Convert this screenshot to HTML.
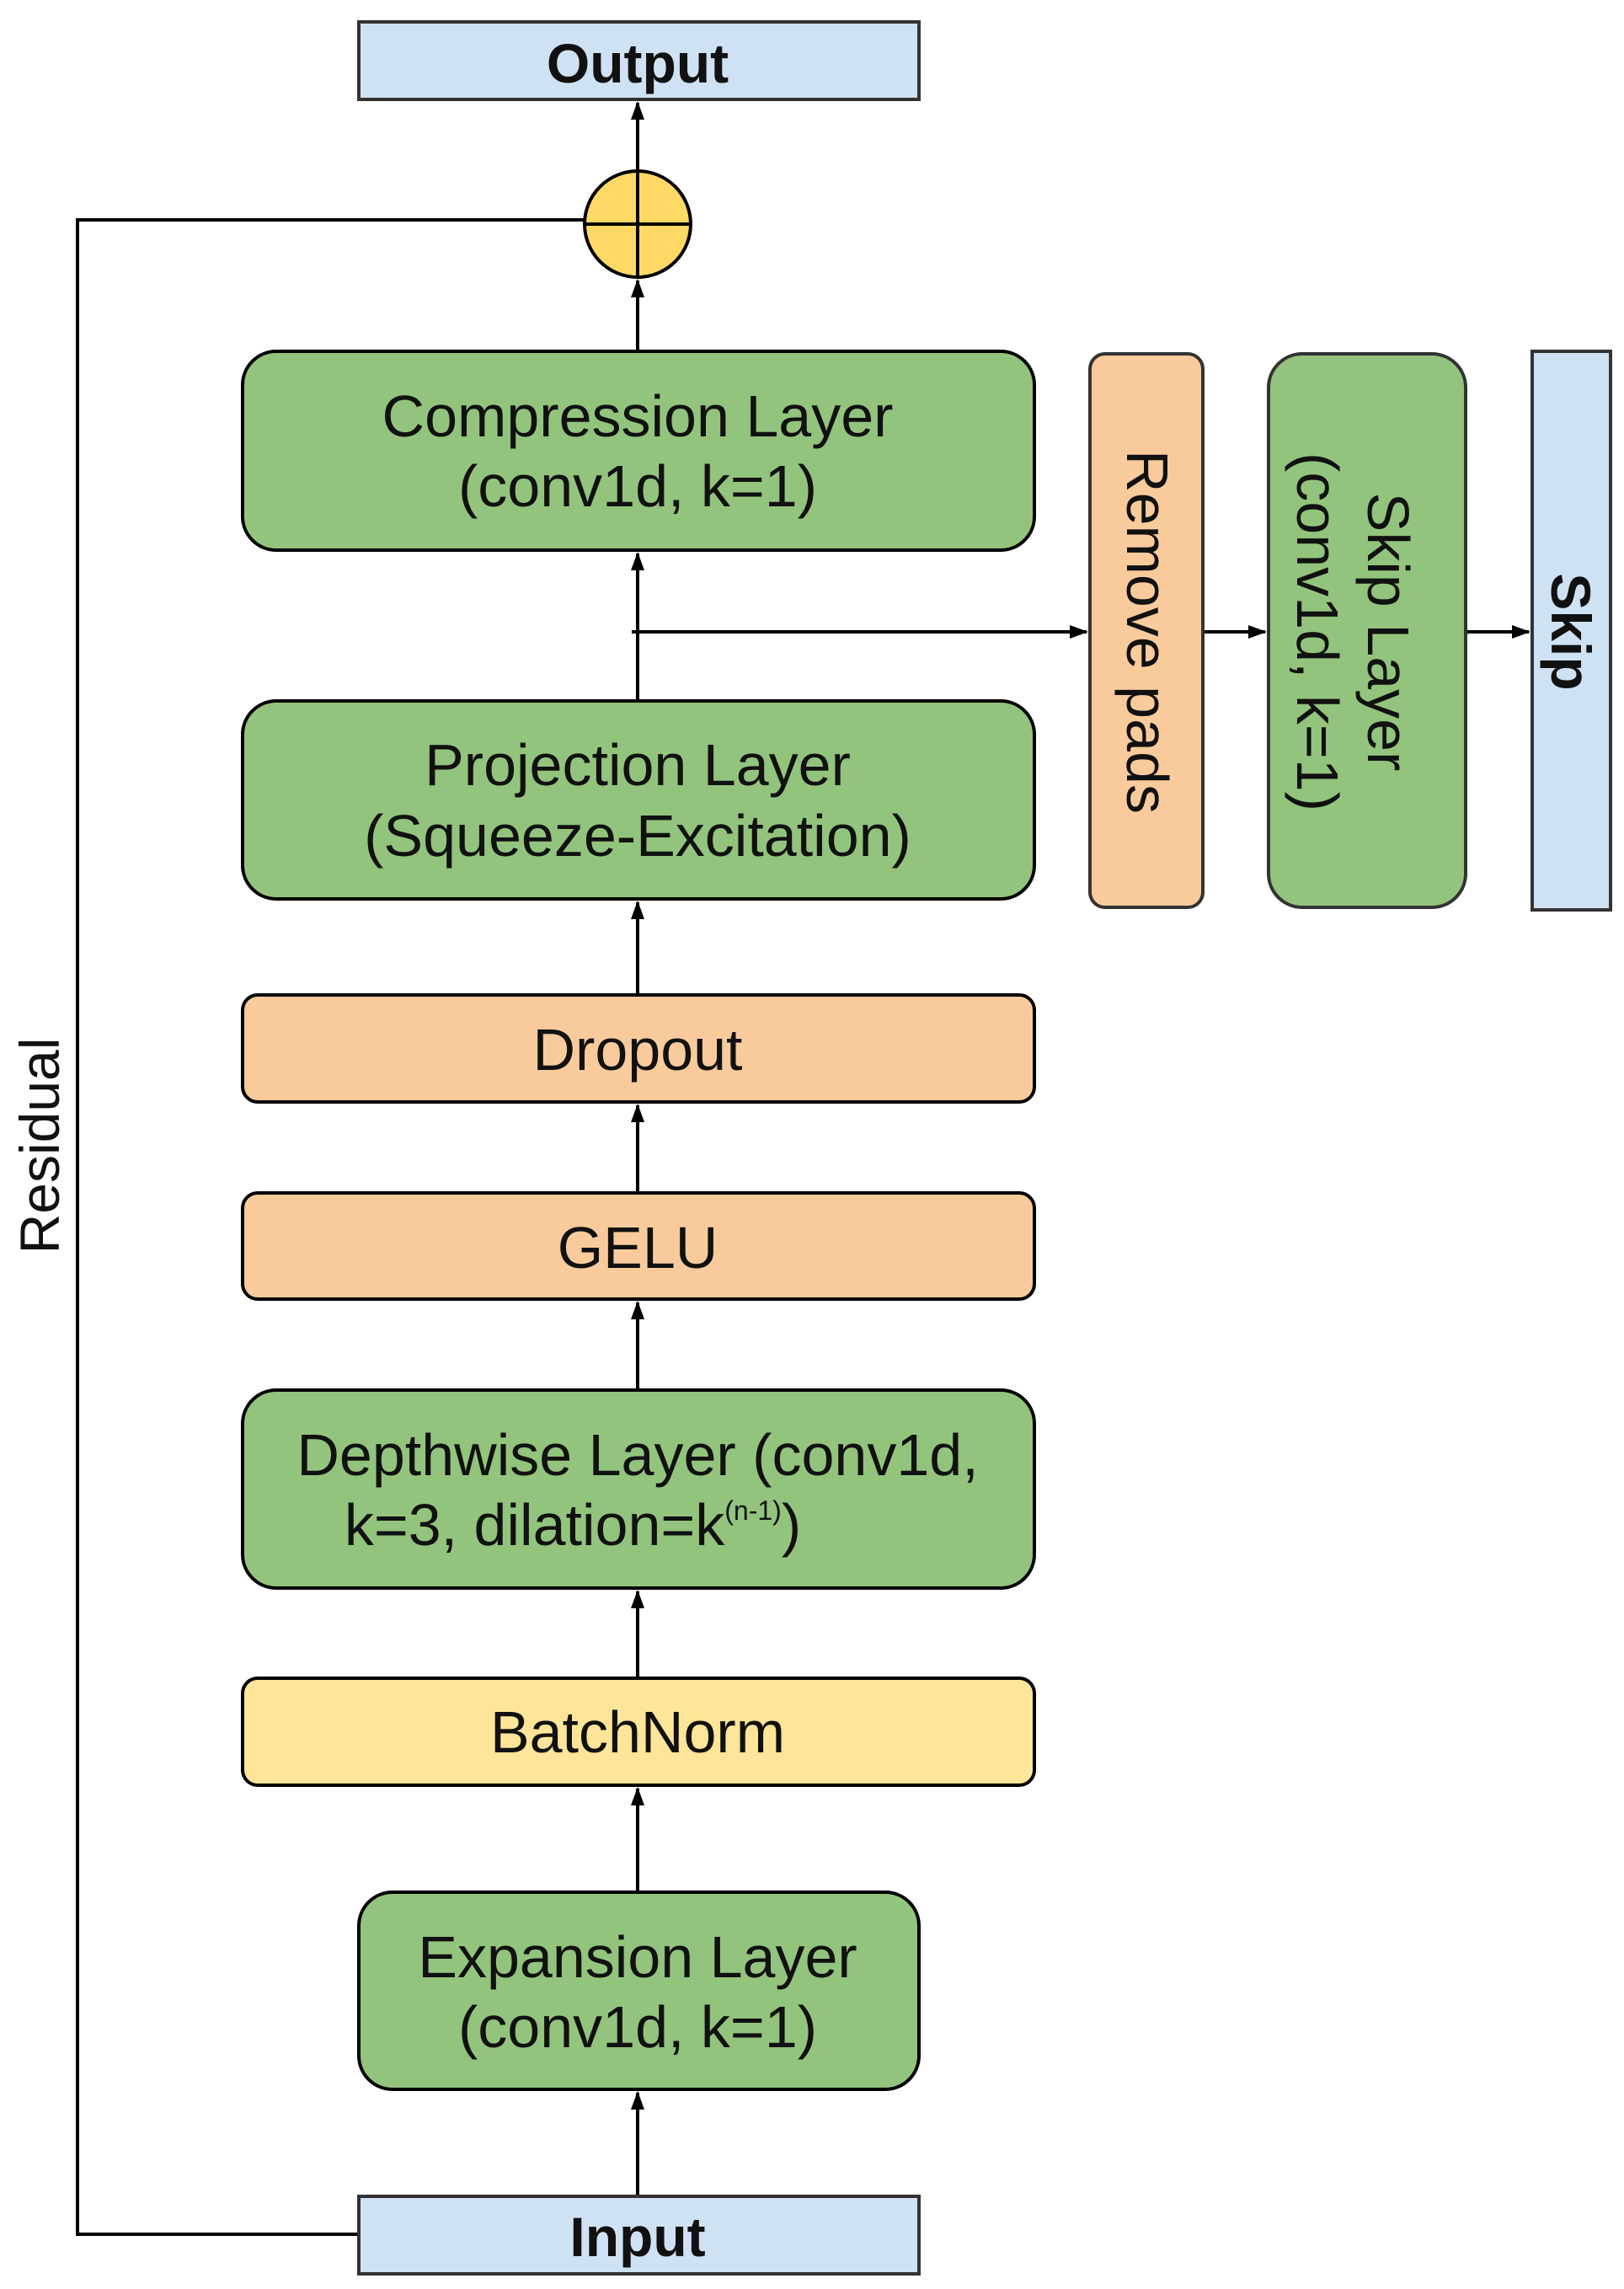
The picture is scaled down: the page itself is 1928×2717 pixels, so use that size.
<!DOCTYPE html>
<html><head><meta charset="utf-8"><style>body{margin:0;background:#fff}</style></head><body>
<svg width="1928" height="2712" viewBox="0 0 1928 2712" xmlns="http://www.w3.org/2000/svg" font-family="Liberation Sans, sans-serif">
<defs>
<marker id="b" markerWidth="22" markerHeight="22" refX="20" refY="11" orient="auto" markerUnits="userSpaceOnUse" viewBox="0 0 22 22"><path d="M0,3 L22,11 L0,19 z" fill="#000"/></marker></defs>
<g stroke="#000" stroke-width="4" fill="none">
<polyline points="426,2652 92,2652 92,261 694,261"/>
<line x1="757" y1="2607" x2="757" y2="2484" marker-end="url(#b)"/>
<line x1="757" y1="2246" x2="757" y2="2123" marker-end="url(#b)"/>
<line x1="757" y1="1992" x2="757" y2="1889" marker-end="url(#b)"/>
<line x1="757" y1="1650" x2="757" y2="1546" marker-end="url(#b)"/>
<line x1="757" y1="1416" x2="757" y2="1312" marker-end="url(#b)"/>
<line x1="757" y1="1181" x2="757" y2="1071" marker-end="url(#b)"/>
<line x1="757" y1="832" x2="757" y2="657" marker-end="url(#b)"/>
<line x1="757" y1="417" x2="757" y2="333" marker-end="url(#b)"/>
<line x1="757" y1="203" x2="757" y2="122" marker-end="url(#b)"/>
<line x1="750" y1="750" x2="1290" y2="750" marker-end="url(#b)"/>
<line x1="1428" y1="750" x2="1502" y2="750" marker-end="url(#b)"/>
<line x1="1740" y1="750" x2="1815" y2="750" marker-end="url(#b)"/>
</g>
<g stroke="#333" stroke-width="4">
<rect x="426" y="26" width="665" height="92" fill="#cfe2f3"/>
<ellipse cx="757" cy="266" rx="63" ry="63" fill="#ffd966" stroke="#000"/>
<line x1="694" y1="266" x2="820" y2="266" stroke="#000"/>
<line x1="757" y1="203" x2="757" y2="329" stroke="#000"/>
<rect x="288" y="417" width="940" height="236" rx="40" fill="#93c47d" stroke="#000"/>
<rect x="288" y="832" width="940" height="235" rx="40" fill="#93c47d" stroke="#000"/>
<rect x="288" y="1181" width="940" height="127" rx="18" fill="#f9cb9c" stroke="#000"/>
<rect x="288" y="1416" width="940" height="126" rx="18" fill="#f9cb9c" stroke="#000"/>
<rect x="288" y="1650" width="940" height="235" rx="40" fill="#93c47d" stroke="#000"/>
<rect x="288" y="1992" width="940" height="127" rx="18" fill="#ffe599" stroke="#000"/>
<rect x="426" y="2246" width="665" height="234" rx="40" fill="#93c47d" stroke="#000"/>
<rect x="426" y="2607" width="665" height="92" fill="#cfe2f3"/>
<rect x="1294" y="420" width="134" height="657" rx="18" fill="#f9cb9c"/>
<rect x="1506" y="420" width="234" height="657" rx="40" fill="#93c47d"/>
<rect x="1819" y="417" width="93" height="663" fill="#cfe2f3"/>
</g>
<g font-size="70" fill="#111" text-anchor="middle">
<text x="757" y="98" font-weight="bold" font-size="66">Output</text>
<text x="757" y="2678" font-weight="bold" font-size="66">Input</text>
<text x="757" y="518">Compression Layer</text>
<text x="757" y="601">(conv1d, k=1)</text>
<text x="757" y="932">Projection Layer</text>
<text x="757" y="1016">(Squeeze-Excitation)</text>
<text x="757" y="1270">Dropout</text>
<text x="757" y="1505">GELU</text>
<text x="757" y="1751">Depthwise Layer (conv1d,</text>
<text x="680" y="1834" text-anchor="middle">k=3, dilation=k<tspan font-size="32" dy="-30">(n-1)</tspan><tspan dy="30">)</tspan></text>
<text x="757" y="2080">BatchNorm</text>
<text x="757" y="2347">Expansion Layer</text>
<text x="757" y="2430">(conv1d, k=1)</text>
<text transform="translate(1338,750) rotate(90)">Remove pads</text>
<text transform="translate(1624,750) rotate(90)">Skip Layer</text>
<text transform="translate(1540,750) rotate(90)">(conv1d, k=1)</text>
<text transform="translate(1842,750) rotate(90)" font-weight="bold" font-size="66">Skip</text>
<text transform="translate(70,1360) rotate(-90)" font-size="66">Residual</text>
</g>
</svg>
</body></html>
